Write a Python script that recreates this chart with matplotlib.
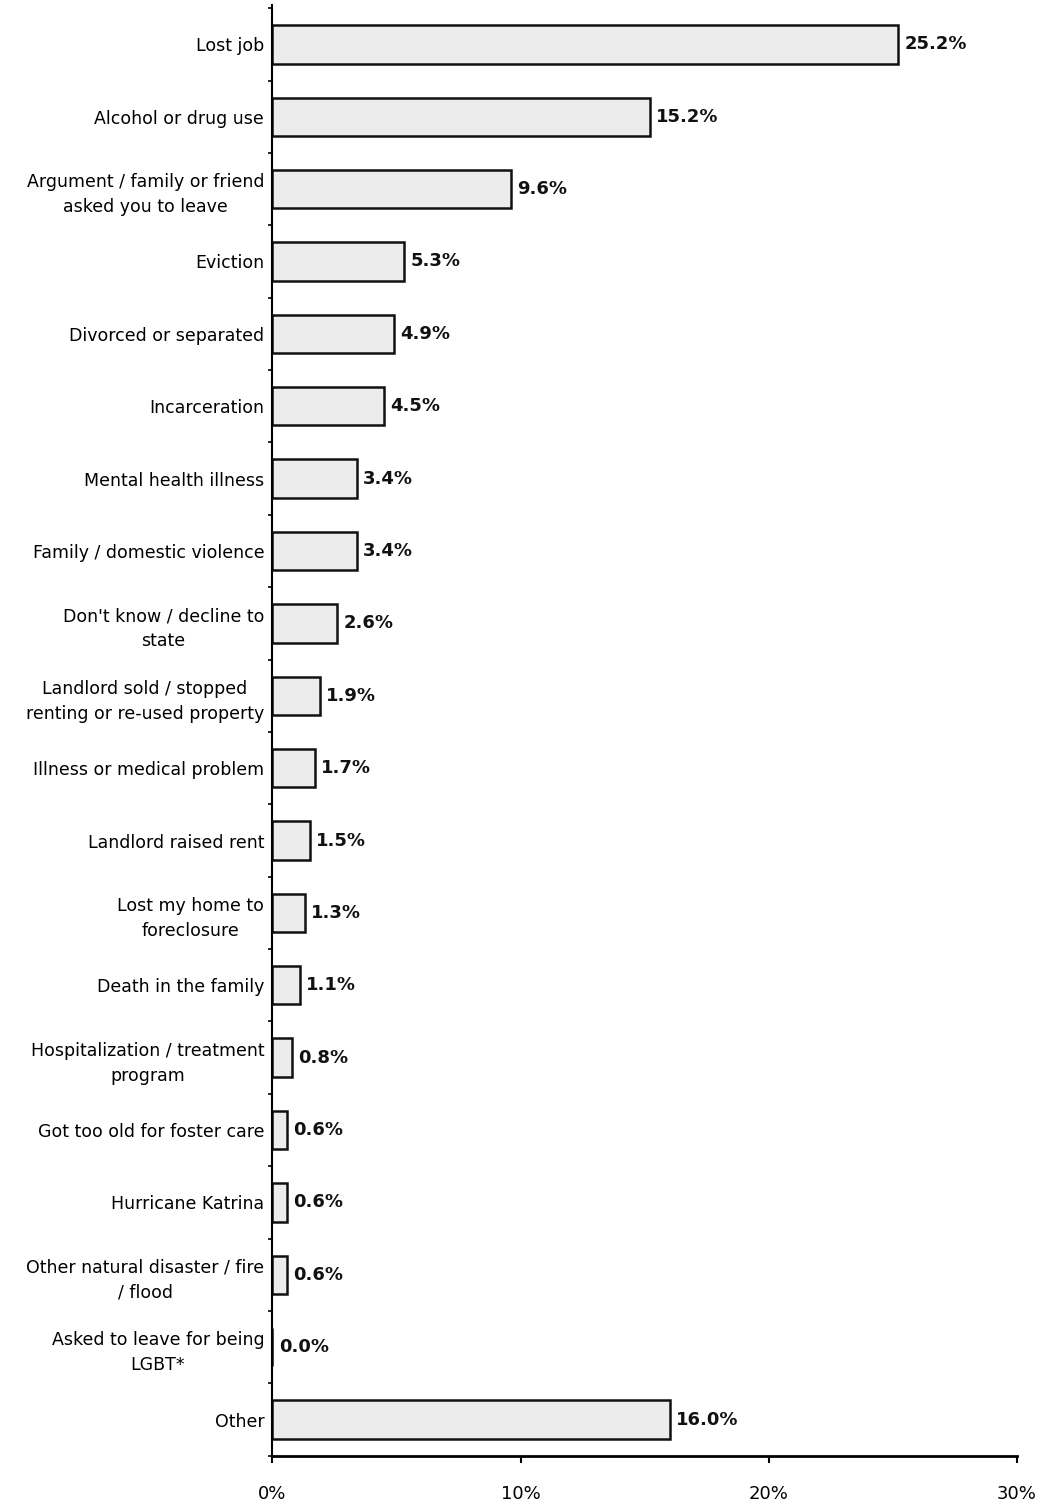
import numpy as np
import matplotlib.pyplot as plt

categories = ['Lost job', 'Alcohol or drug use', 'Argument / family or friend\nasked you to leave',
              'Eviction', 'Divorced or separated', 'Incarceration', 'Mental health illness',
              'Family / domestic violence', "Don't know / decline to\nstate",
              'Landlord sold / stopped\nrenting or re-used property', 'Illness or medical problem',
              'Landlord raised rent', 'Lost my home to\nforeclosure', 'Death in the family',
              'Hospitalization / treatment\nprogram', 'Got too old for foster care',
              'Hurricane Katrina', 'Other natural disaster / fire\n/ flood',
              'Asked to leave for being\nLGBT*', 'Other']
values = [25.2, 15.2, 9.6, 5.3, 4.9, 4.5, 3.4, 3.4, 2.6, 1.9, 1.7, 1.5, 1.3, 1.1, 0.8, 0.6, 0.6, 0.6, 0.0, 16.0]
xticks = [0, 10, 20, 30]
xticklabels = ['0%', '10%', '20%', '30%']

fig = plt.figure(figsize=(10.4, 15.07), dpi=100)
ax = fig.add_axes([0.262, 0.034, 0.716, 0.963])

y = np.arange(len(categories))
ax.barh(y, values, height=0.53, color='#ececec', edgecolor='#111111', linewidth=1.8)
for yi, v in zip(y, values):
    ax.text(v + 0.25, yi, '%.1f%%' % v, va='center', ha='left', fontsize=13,
            fontweight='bold', color='#111111')

ax.set_ylim(len(categories) - 0.5, -0.55)
ax.set_xlim(0, 30)
ax.set_yticks(y)
ax.set_yticklabels(categories, fontsize=12.5, ha='right', multialignment='center', linespacing=1.5)
ax.tick_params(axis='y', length=0, pad=6)
ax.set_yticks(np.arange(len(categories) + 1) - 0.5, minor=True)
ax.tick_params(axis='y', which='minor', length=3, width=1.2)
ax.set_xticks(xticks)
ax.set_xticklabels(xticklabels, fontsize=13)
ax.tick_params(axis='x', length=5, width=1.5, pad=16)

for s in ['top', 'right']:
    ax.spines[s].set_visible(False)
ax.spines['left'].set_linewidth(1.5)
ax.spines['bottom'].set_linewidth(2)

fig.savefig('out.png', dpi=100)
